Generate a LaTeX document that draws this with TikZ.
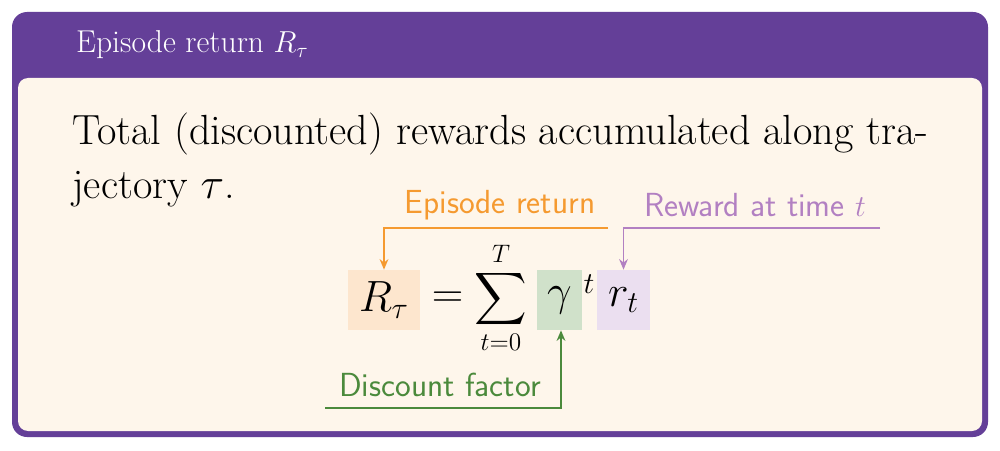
\documentclass[tikz,border=0pt]{standalone}
\usepackage{amsmath}
\usetikzlibrary{arrows.meta}
\definecolor{frame}{HTML}{643F98}
\definecolor{cream}{HTML}{FEF6EB}
\definecolor{orng}{HTML}{F59A30}
\definecolor{orngf}{HTML}{FDE6CE}
\definecolor{grn}{HTML}{4B8A3C}
\definecolor{grnf}{HTML}{D0E1CA}
\definecolor{purp}{HTML}{B280C2}
\definecolor{purpf}{HTML}{EBDFF0}
\tikzset{
 mbox/.style={minimum height=1.2cm,inner sep=0pt,font=\fontsize{23}{27}\selectfont},
 lab/.style={font=\sffamily\fontsize{19}{22}\selectfont,inner sep=1pt},
 conn/.style={line width=0.9pt,-{Stealth[length=6pt,width=5pt]}}
}
\begin{document}
\begin{tikzpicture}
\useasboundingbox (0,0) rectangle (20,9);
\fill[white] (0,0) rectangle (20,9);
\fill[frame,rounded corners=0.3cm] (0.24,0.26) rectangle (19.76,8.76);
\fill[cream,rounded corners=0.2cm] (0.36,0.38) rectangle (19.64,7.44);
\node[anchor=west,text=white,font=\fontsize{18}{22}\selectfont] (title) at (1.4,8.1) {Episode return $R_\tau$};
\node[anchor=north west,align=left,font=\fontsize{24}{31}\selectfont,inner sep=0pt] (body) at (1.44,6.75) {Total (discounted) rewards accumulated along tra-\\jectory $\tau$.};
% equation
\node[mbox,fill=orngf,minimum width=1.44cm] (R) at (7.68,3) {$R_\tau$};
\node[mbox] (eq) at (8.95,3) {$=$};
\node[mbox,font=\fontsize{21}{25}\selectfont] (sum) at (10.02,3.05) {$\displaystyle\sum_{t=0}^{T}$};
\node[mbox,fill=grnf,minimum width=0.9cm] (g) at (11.19,3) {$\gamma$};
\node[font=\fontsize{17}{20}\selectfont,inner sep=0pt] (t) at (11.78,3.32) {$t$};
\node[mbox,fill=purpf,minimum width=1.06cm] (r) at (12.47,3) {$r_t$};
% labels
\node[lab,text=orng] (lo) at (10,4.9) {Episode return};
\node[lab,text=purp] (lp) at (15.1,4.9) {Reward at time $t$};
\node[lab,text=grn] (lg) at (8.8,1.3) {Discount factor};
\coordinate (oe) at (12.16,4.44);
\coordinate (pe) at (17.6,4.44);
\coordinate (ge) at (6.5,0.84);
\draw[conn,orng] (oe) -| (R.north);
\draw[conn,purp] (pe) -| (r.north);
\draw[conn,grn] (ge) -| ([xshift=0.03cm]g.south);
\end{tikzpicture}
\end{document}
